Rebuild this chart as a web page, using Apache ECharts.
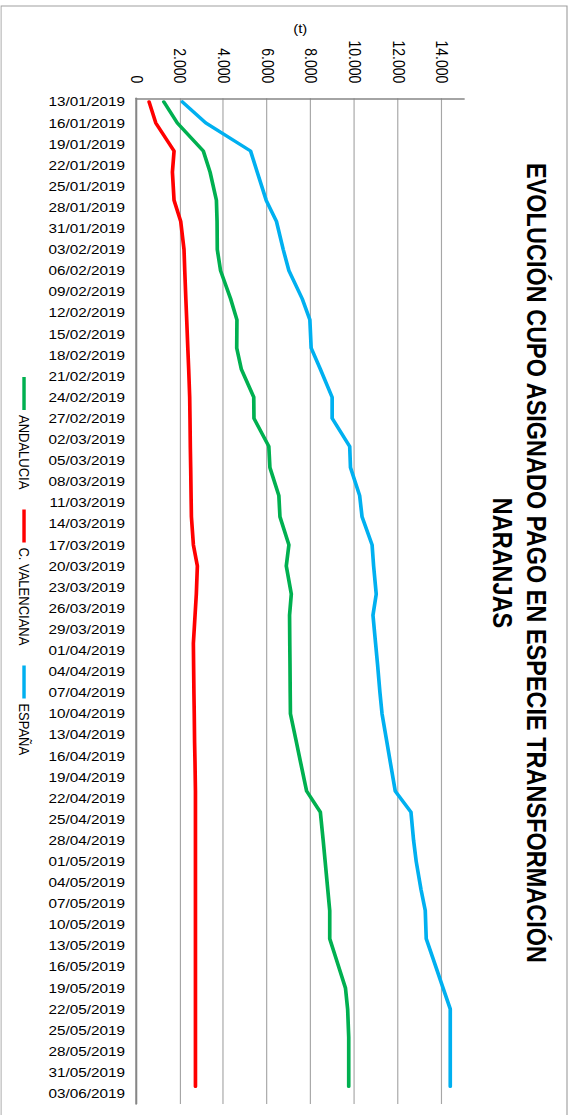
<!DOCTYPE html>
<html>
<head>
<meta charset="utf-8">
<script src="https://cdn.jsdelivr.net/npm/echarts@6/dist/echarts.min.js"></script>
<style>
  html, body { margin: 0; padding: 0; width: 572px; height: 1115px; overflow: hidden; background: #fff; }
  #chart { position: absolute; left: 0; top: 0; width: 1115px; height: 497.4px;
           transform-origin: 0 0; transform: matrix(0, 1, -1.15, 0, 572, 0); }
</style>
</head>
<body>
<div id="chart"></div>
<script>
// ---- data ----
const titleText = 'EVOLUCIÓN CUPO ASIGNADO PAGO EN ESPECIE TRANSFORMACIÓN\nNARANJAS';
const unitName = '(t)';
const seriesNames = ['ANDALUCIA', 'C. VALENCIANA', 'ESPAÑA'];
const axisFirstDay = '13/01/2019';
const axisLastDay = '04/06/2019';
const obsDates = ['13/01/2019','16/01/2019','20/01/2019','23/01/2019','27/01/2019','30/01/2019',
  '03/02/2019','06/02/2019','10/02/2019','13/02/2019','17/02/2019','20/02/2019','24/02/2019','27/02/2019',
  '03/03/2019','06/03/2019','10/03/2019','13/03/2019','17/03/2019','20/03/2019','24/03/2019','27/03/2019','31/03/2019',
  '03/04/2019','07/04/2019','10/04/2019','14/04/2019','17/04/2019','21/04/2019','24/04/2019','28/04/2019',
  '01/05/2019','05/05/2019','08/05/2019','12/05/2019','15/05/2019','19/05/2019','22/05/2019','26/05/2019','29/05/2019',
  '02/06/2019'];
const andalucia = [1250, 1870, 3060, 3370, 3660, 3690, 3700, 3850, 4310, 4600, 4590, 4800, 5370, 5380,
  6060, 6110, 6520, 6570, 6980, 6860, 7090, 7010, 7020, 7030, 7040, 7050, 7320, 7520, 7790, 8420, 8550,
  8640, 8760, 8850, 8850, 9160, 9570, 9670, 9720, 9720, 9720];
const cValenciana = [577, 883, 1720, 1645, 1720, 2025, 2176, 2210, 2260, 2300, 2350, 2390, 2436, 2450,
  2465, 2482, 2500, 2515, 2606, 2788, 2740, 2682, 2605, 2615, 2630, 2645, 2660, 2680, 2700, 2700, 2700,
  2700, 2700, 2700, 2700, 2700, 2700, 2700, 2700, 2700, 2700];
const espana = [2100, 3170, 5225, 5530, 5940, 6410, 6720, 6980, 7590, 7940, 8000, 8420, 8960, 8960,
  9765, 9800, 10220, 10330, 10790, 10860, 10980, 10830, 10950, 11040, 11150, 11245, 11465, 11630, 11850, 12570, 12690,
  12810, 13030, 13225, 13270, 13600, 14040, 14370, 14370, 14370, 14370];
const valueTicks = { min: 0, max: 15000, interval: 2000 };
const seriesColors = ['#00B050', '#FF0000', '#00B0F0'];

// ---- build daily category axis ----
function parseD(s) { const p = s.split('/'); return Date.UTC(+p[2], +p[1] - 1, +p[0]); }
function fmtD(t) { const d = new Date(t); const pad = n => (n < 10 ? '0' : '') + n;
  return pad(d.getUTCDate()) + '/' + pad(d.getUTCMonth() + 1) + '/' + d.getUTCFullYear(); }
const categories = [];
for (let t = parseD(axisFirstDay); t <= parseD(axisLastDay); t += 86400000) categories.push(fmtD(t));
function toSeries(vals) {
  const arr = categories.map(() => null);
  obsDates.forEach((d, i) => { arr[categories.indexOf(d)] = vals[i]; });
  return arr;
}
const fmtNum = v => String(v).replace(/\B(?=(\d{3})+(?!\d))/g, '.');

const FONT = 'Liberation Sans';
const chart = echarts.init(document.getElementById('chart'), null, { renderer: 'svg' });
const lineSeries = [andalucia, cValenciana, espana].map((vals, i) => ({
  name: seriesNames[i], type: 'line', data: toSeries(vals), connectNulls: true,
  showSymbol: false, symbol: 'none', smooth: false, animation: false,
  lineStyle: { color: seriesColors[i], width: 3.2, cap: 'round', join: 'round' },
  itemStyle: { color: seriesColors[i] }
}));
chart.setOption({
  animation: false,
  textStyle: { fontFamily: FONT },
  title: {
    text: titleText, left: 563, top: 16, padding: 0, textAlign: 'center',
    textStyle: { fontFamily: FONT, fontWeight: 'bold', fontSize: 23.5, lineHeight: 29.5, color: '#000' }
  },
  legend: {
    data: seriesNames, left: 377, top: 470, padding: 0, itemGap: 20,
    itemWidth: 33, itemHeight: 3, icon: 'rect',
    textStyle: { fontFamily: FONT, fontSize: 13, color: '#000' }
  },
  grid: { left: 98.3, right: 11, top: 93.9, bottom: 118.3, containLabel: false, outerBoundsMode: 'none' },
  graphic: [{
    type: 'rect', silent: true, z: -1,
    shape: { x: 6, y: 4.35, width: 1120, height: 492.2 },
    style: { fill: 'none', stroke: '#a0a0a0', lineWidth: 1 }
  }],
  xAxis: {
    type: 'category', data: categories, boundaryGap: true,
    axisLine: { show: true, lineStyle: { color: '#868686', width: 1.6 } },
    axisTick: { show: false },
    axisLabel: { interval: 2, rotate: 90, margin: 10, fontSize: 13.3, color: '#000', fontFamily: FONT },
    splitLine: { show: false }
  },
  yAxis: {
    type: 'value', min: valueTicks.min, max: valueTicks.max, interval: valueTicks.interval,
    name: unitName, nameLocation: 'middle', nameRotate: 90, nameGap: 63, nameMoveOverlap: false,
    nameTextStyle: { fontFamily: FONT, fontSize: 13, color: '#000' },
    axisLine: { show: true, lineStyle: { color: '#868686', width: 1.6 } },
    axisTick: { show: false },
    axisLabel: { margin: 15, fontSize: 14, color: '#000', fontFamily: FONT, showMaxLabel: false,
                 formatter: v => fmtNum(v) },
    splitLine: { show: true, showMaxLine: false, lineStyle: { color: '#a6a6a6', width: 1 } }
  },
  series: lineSeries
});
</script>
</body>
</html>
